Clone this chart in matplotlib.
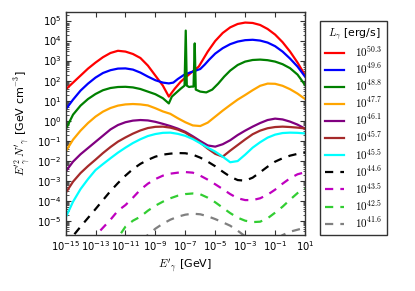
import matplotlib
matplotlib.use("Agg")
import matplotlib.pyplot as plt
from matplotlib.ticker import LogLocator, NullLocator, LogFormatterMathtext

# log10 of photon energy E'_gamma [GeV] and of E'^2 N' [GeV cm^-3]
logE_grid = [-15, -14.5, -14, -13.5, -13, -12.5, -12, -11.5, -11, -10.5, -10, -9.5, -9, -8.5,
             -8, -7.5, -7, -6.5, -6, -5.5, -5, -4.5, -4, -3.5, -3, -2.5, -2, -1.5, -1, -0.5,
             0, 0.5, 1]

red_x = [-15, -14.5, -14, -13.5, -13, -12.5, -12, -11.5, -11, -10.5, -10, -9.5, -9, -8.5, -8.1,
         -7.7, -7.3, -7.0, -6.6, -6.1, -5.5, -5, -4.5, -4, -3.5, -3, -2.5, -2, -1.5, -1, -0.5,
         0, 0.5, 1]
red_y = [1.55, 1.9, 2.25, 2.6, 2.9, 3.17, 3.38, 3.49, 3.45, 3.33, 3.13, 2.75, 2.25, 1.75, 1.2,
         1.6, 1.95, 2.15, 2.4, 2.7, 3.45, 3.98, 4.38, 4.66, 4.83, 4.9, 4.88, 4.78, 4.58, 4.3, 3.92,
         3.45, 2.9, 2.27]

blue_x = [-15, -14.5, -14, -13.5, -13, -12.5, -12, -11.5, -11, -10.5, -10, -9.5, -9, -8.5, -8.1,
          -7.8, -7.5, -7.1, -6.7, -6.3, -6.0, -5.7, -5.4, -5, -4.5, -4, -3.5, -3, -2.5, -2, -1.5,
          -1, -0.5, 0, 0.5, 1]
blue_y = [0.55, 1.05, 1.5, 1.85, 2.15, 2.38, 2.52, 2.6, 2.61, 2.55, 2.4, 2.2, 2.02, 1.9, 1.86,
          1.9, 2.08, 2.28, 2.4, 2.5, 2.58, 2.8, 3.05, 3.35, 3.62, 3.82, 3.95, 4.02, 4.04, 4.0, 3.9,
          3.72, 3.45, 3.1, 2.7, 2.2]

green_x = [-15, -14.5, -14, -13.5, -13, -12.5, -12, -11.5, -11, -10.5, -10, -9.5, -9, -8.5, -8.1,
           -7.9, -7.6, -7.3, -7.05, -6.97, -6.9, -6.75, -6.6, -6.45, -6.37, -6.3, -6.0, -5.6,
           -5.2, -4.8, -4.4, -4, -3.5, -3, -2.5, -2, -1.5, -1, -0.5, 0, 0.5, 1]
green_y = [-0.45, 0.3, 0.75, 1.08, 1.33, 1.52, 1.63, 1.68, 1.69, 1.66, 1.58, 1.45, 1.32, 1.12, 0.86,
           1.2, 1.4, 1.6, 1.75, 4.5, 1.75, 1.68, 1.7, 1.7, 3.86, 1.55, 1.45, 1.41,
           1.55, 1.85, 2.2, 2.5, 2.78, 2.95, 3.03, 3.05, 3.02, 2.95, 2.82, 2.62, 2.3, 1.78]

orange_y = [-1.55, -0.95, -0.5, -0.12, 0.2, 0.45, 0.63, 0.75, 0.81, 0.83, 0.81, 0.76, 0.62, 0.46,
            0.34, 0.12, -0.08, -0.24, -0.27, -0.1, 0.2, 0.5, 0.78, 1.05, 1.28, 1.52, 1.74, 1.85,
            1.84, 1.74, 1.57, 1.35, 1.08]
purple_y = [-2.55, -2.05, -1.68, -1.37, -1.06, -0.75, -0.44, -0.22, -0.08, 0.0, 0.03, 0.01, -0.06,
            -0.16, -0.27, -0.4, -0.56, -0.78, -1.02, -1.24, -1.3, -1.18, -0.98, -0.72, -0.5, -0.3,
            -0.12, 0.03, 0.1, 0.06, -0.05, -0.2, -0.4]
brown_y = [-3.62, -3.05, -2.62, -2.27, -1.95, -1.62, -1.32, -1.05, -0.84, -0.65, -0.49, -0.37,
           -0.31, -0.3, -0.35, -0.45, -0.6, -0.84, -1.1, -1.4, -1.66, -1.8, -1.5, -1.22, -0.94,
           -0.68, -0.5, -0.38, -0.32, -0.3, -0.32, -0.35, -0.39]
cyan_y = [-4.85, -4.05, -3.42, -2.92, -2.47, -2.17, -1.88, -1.6, -1.35, -1.12, -0.93, -0.77, -0.67,
          -0.61, -0.6, -0.66, -0.76, -0.92, -1.13, -1.35, -1.55, -1.8, -2.08, -2.02, -1.7, -1.35,
          -1.08, -0.85, -0.7, -0.62, -0.6, -0.61, -0.64]
black_y = [-6.3, -5.76, -5.3, -4.86, -4.42, -3.97, -3.52, -3.12, -2.75, -2.42, -2.16, -1.96, -1.8,
           -1.7, -1.65, -1.62, -1.63, -1.7, -1.85, -2.05, -2.28, -2.55, -2.8, -2.97, -3.0, -2.85,
           -2.58, -2.3, -2.05, -1.88, -1.75, -1.66, -1.6]
magenta_y = [-8.0, -7.5, -7.0, -6.3, -5.75, -5.35, -4.95, -4.5, -4.22, -3.85, -3.45, -3.15, -2.92,
             -2.75, -2.65, -2.6, -2.57, -2.6, -2.75, -2.95, -3.18, -3.42, -3.67, -3.88, -3.97,
             -3.97, -3.88, -3.7, -3.45, -3.15, -2.88, -2.68, -2.58]
lime_y = [-9.0, -8.5, -8.0, -7.5, -7.0, -6.6, -6.25, -5.85, -5.3, -5.0, -4.8, -4.5, -4.25, -4.05,
          -3.88, -3.75, -3.67, -3.64, -3.68, -3.85, -4.08, -4.35, -4.62, -4.85, -5.0, -5.07, -5.05,
          -4.88, -4.6, -4.3, -3.95, -3.62, -3.4]
gray_y = [-10.0, -9.5, -9.0, -8.5, -8.0, -7.5, -7.1, -6.7, -6.4, -6.15, -5.95, -5.72, -5.4, -5.15,
          -4.95, -4.8, -4.7, -4.65, -4.68, -4.78, -4.92, -5.08, -5.25, -5.5, -5.78, -6.05, -6.2,
          -6.15, -5.95, -5.72, -5.55, -5.45, -5.35]

labels = ['50.3', '49.6', '48.8', '47.7', '46.1', '45.7', '45.5', '44.6', '43.5', '42.5', '41.6']
colors = ['red', 'blue', 'green', 'orange', 'purple', 'brown', 'cyan', 'black',
          (0.75, 0, 0.75), 'limegreen', 'gray']

series = [(red_x, red_y), (blue_x, blue_y), (green_x, green_y), (logE_grid, orange_y),
          (logE_grid, purple_y), (logE_grid, brown_y), (logE_grid, cyan_y),
          (logE_grid, black_y), (logE_grid, magenta_y), (logE_grid, lime_y), (logE_grid, gray_y)]

fig = plt.figure(figsize=(4.15, 2.91), dpi=100)
ax = fig.add_axes([0.158, 0.192, 0.577, 0.767])

for i, (xs, ys) in enumerate(series):
    E = [10.0 ** v for v in xs]
    F = [10.0 ** v for v in ys]
    ls = '-' if i < 7 else (0, (3.7, 3.2))
    ax.plot(E, F, color=colors[i], lw=1.6, linestyle=ls, label=r'$10^{%s}$' % labels[i])

ax.set_xscale('log')
ax.set_yscale('log')
ax.set_xlim(1e-15, 10)
ax.set_ylim(1.9e-6, 2.7e5)

ax.set_xticks([10.0 ** k for k in range(-15, 2, 2)])
ax.xaxis.set_major_formatter(LogFormatterMathtext())
ax.xaxis.set_minor_locator(NullLocator())
ax.yaxis.set_major_locator(LogLocator(base=10.0, numticks=20))
ax.yaxis.set_minor_locator(LogLocator(base=10.0, subs=range(2, 10), numticks=20))

ax.tick_params(which='both', direction='in', top=True, right=True, labelsize=7.2, pad=3,
               color='0.2')
ax.tick_params(which='major', length=3.5, width=0.8)
ax.tick_params(which='minor', length=1.8, width=0.6)
for sp in ax.spines.values():
    sp.set_color('0.2')
    sp.set_linewidth(1.0)

ax.set_xlabel(r"$E'_\gamma$ [GeV]", fontsize=8, math_fontfamily='cm', labelpad=3)
ax.set_ylabel(r"$E'^{2}_\gamma\,N'_\gamma$ [GeV cm$^{-3}$]", fontsize=8,
              math_fontfamily='cm', labelpad=3)

leg = ax.legend(loc='lower left', bbox_to_anchor=(1.063, 0.0), borderaxespad=0,
                fontsize=8, handlelength=1.7, handletextpad=1.0, labelspacing=0.21,
                borderpad=0.45, fancybox=False, edgecolor='0.2', framealpha=1,
                title=r'$L_\gamma$ [erg/s]', title_fontsize=7.8)
leg.get_frame().set_linewidth(1.0)
leg.get_title().set_math_fontfamily('cm')
for t in leg.get_texts():
    t.set_math_fontfamily('cm')

fig.savefig('out.png', dpi=100)
